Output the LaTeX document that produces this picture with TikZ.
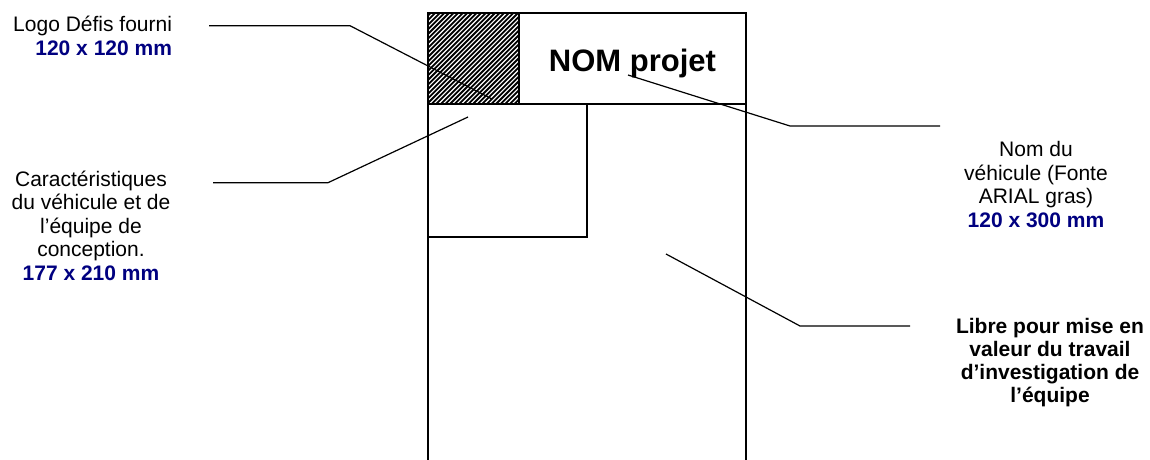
\documentclass[tikz,border=0pt]{standalone}
\usepackage{fontspec}
\setmainfont{Liberation Sans}
\definecolor{dimnavy}{RGB}{0,0,128}
\begin{document}
\begin{tikzpicture}[x=1pt,y=-1pt,
  boxline/.style={draw=black,line width=1.8pt,inner sep=0pt,outer sep=0pt,rectangle},
  leader/.style={draw=black,line width=1.2pt},
  lbl/.style={inner sep=0pt,outer sep=0pt,font=\fontsize{21}{23.5}\selectfont},
  dim/.style={text=dimnavy,font=\bfseries}
]
\useasboundingbox (0,0) rectangle (1150,460);
% column
\draw[line width=1.8pt] (428,465) -- (428,13) -- (746,13) -- (746,465);
% hatched logo
\begin{scope}
  \clip (428,13) rectangle (519,104);
  \foreach \k in {0,...,42}{
    \draw[line width=1.8pt] (333+\k*4.6,106) -- ++(98,-98);
  }
\end{scope}
\node[boxline,anchor=north west,minimum width=91pt,minimum height=91pt] (logo) at (428,13) {};
\node[boxline,anchor=north west,minimum width=227pt,minimum height=91pt,
  font=\fontsize{31}{34}\selectfont\bfseries,text height=25pt,text depth=0pt] (nom) at (519,13) {NOM projet};
\node[boxline,anchor=north west,minimum width=159pt,minimum height=133pt] (carac) at (428,104) {};
% labels
\node[lbl,align=right,anchor=north east] (tlogo) at (172,15.7)
  {\rule{0pt}{16pt}Logo Défis fourni\\ {\color{dimnavy}\bfseries 120 x 120 mm}};
\node[lbl,align=center,anchor=north] (tcarac) at (91,170)
  {\rule{0pt}{16pt}Caractéristiques\\ du véhicule et de\\ l’équipe de\\ conception.\\ {\color{dimnavy}\bfseries 177 x 210 mm}};
\node[lbl,align=center,anchor=north] (tnom) at (1036,140.7)
  {\rule{0pt}{16pt}Nom du\\ véhicule (Fonte\\ ARIAL gras)\\ {\color{dimnavy}\bfseries 120 x 300 mm}};
\node[lbl,align=center,anchor=north,font=\fontsize{21}{23}\selectfont\bfseries] (tlibre) at (1050,317)
  {\rule{0pt}{16pt}Libre pour mise en\\ valeur du travail\\ d’investigation de\\ l’équipe};
% leader coordinates
\coordinate (a1) at (209,25.7); \coordinate (a2) at (350,25.7); \coordinate (a3) at (492,99);
\coordinate (b1) at (213,182.7); \coordinate (b2) at (328,182.7); \coordinate (b3) at (468,117);
\coordinate (c1) at (940,126); \coordinate (c2) at (790,126); \coordinate (c3) at (628,75);
\coordinate (d1) at (910,326); \coordinate (d2) at (800,326); \coordinate (d3) at (666,254);
\draw[leader] (a1) -- (a2) -- (a3);
\draw[leader] (b1) -- (b2) -- (b3);
\draw[leader] (c1) -- (c2) -- (c3);
\draw[leader] (d1) -- (d2) -- (d3);
\end{tikzpicture}
\end{document}
